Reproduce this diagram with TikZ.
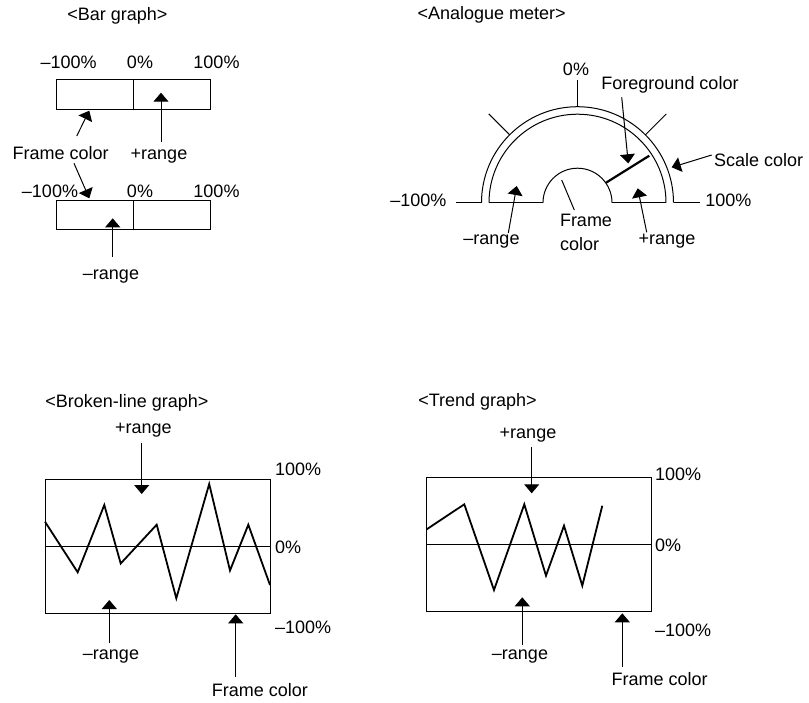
\documentclass[tikz,border=0pt]{standalone}
\usepackage{fontspec}
\setmainfont{Liberation Sans}
\usetikzlibrary{arrows.meta,calc}
\begin{document}
\begin{tikzpicture}[x=1pt,y=1pt,
  every node/.style={font=\fontsize{18}{21}\selectfont},
  lbl/.style={inner sep=0pt,outer sep=0pt,text height=13pt,text depth=4pt,anchor=base},
  lblw/.style={lbl,anchor=base west},
  frame/.style={line width=1pt},
  boxnode/.style={draw,line width=1pt,inner sep=0pt,outer sep=0pt,anchor=north west},
  conn/.style={line width=1pt,-{Triangle[width=15pt,length=9pt]}},
  plain/.style={line width=1pt},
  trace/.style={line width=1.8pt},
  needle/.style={line width=2.2pt}]
\useasboundingbox[fill=white] (0,0) rectangle (809,-702);

% ---------------- Bar graph ----------------
\node[lbl] (bartitle) at (117.5,-20) {<Bar graph>};
\node[lbl] (b1m) at (68.7,-68.5) {–100\%};
\node[lbl] (b1z) at (140,-68.5) {0\%};
\node[lbl] (b1p) at (216.5,-68.5) {100\%};
\node[boxnode,minimum width=154pt,minimum height=29.7pt] (bar1) at (56.7,-79.3) {};
\draw[frame] (bar1.north) -- (bar1.south);
\node[boxnode,minimum width=154pt,minimum height=29.3pt] (bar2) at (56.7,-200) {};
\draw[frame] (bar2.north) -- (bar2.south);

\node[lbl] (barfc) at (60.7,-159.3) {Frame color};
\node[lbl] (b1plus) at (159,-159.3) {+range};
\coordinate (b1tip) at (161,-92.7);
\draw[conn,shorten <=4.6pt] (b1tip |- b1plus.north) -- (b1tip);
\coordinate (b1fctip) at (89.3,-110.7);
\draw[conn] ($(barfc.north)+(16,10.3)$) -- (b1fctip);
\coordinate (b2fctip) at (89.3,-198.3);
\draw[conn] ($(barfc.south)+(13.3,0)$) -- (b2fctip);

\node[lbl] (b2m) at (50,-197.5) {–100\%};
\node[lbl] (b2z) at (140,-197.5) {0\%};
\node[lbl] (b2p) at (216.5,-197.5) {100\%};
\node[lbl] (b2minus) at (111,-279.5) {–range};
\coordinate (b2tip) at (112.7,-218.3);
\draw[conn,shorten <=9.8pt] (b2tip |- b2minus.north) -- (b2tip);

% ---------------- Analogue meter ----------------
\node[lbl] (mtitle) at (491.7,-19.5) {<Analogue meter>};
\coordinate (mc) at (577.5,-202.7);
\draw[frame] (mc) ++(180:96pt) arc[start angle=180,end angle=0,radius=96pt];
\draw[frame] (mc) ++(180:88.5pt) arc[start angle=180,end angle=0,radius=88.5pt];
\draw[frame] (mc) ++(180:34.5pt) arc[start angle=180,end angle=0,radius=34.5pt];
\draw[frame] ($(mc)+(-121.5,0)$) -- ($(mc)+(-96,0)$);
\draw[frame] ($(mc)+(-88.5,0)$) -- ($(mc)+(-34.5,0)$);
\draw[frame] ($(mc)+(34.5,0)$) -- ($(mc)+(88.5,0)$);
\draw[frame] ($(mc)+(96,0)$) -- ($(mc)+(122.5,0)$);
\foreach \a/\r in {45/125.6,90/122.7,135/125.6}
  \draw[frame] ($(mc)+(\a:96pt)$) -- ($(mc)+(\a:\r pt)$);
\draw[needle] ($(mc)+(28.5,20)$) -- ($(mc)+(71.8,47)$);

\node[lbl] (m0) at (576,-75) {0\%};
\node[lbl] (mfg) at (670,-89.5) {Foreground color};
\coordinate (mfgtip) at (628.3,-163.3);
\draw[conn] ($(mfg.south)+(-48.3,-3.8)$) -- (mfgtip);
\node[lblw] (msc) at (714,-166.5) {Scale color};
\coordinate (msctip) at (671.7,-167.3);
\draw[conn] ($(msc.west)+(-2.3,7)$) -- (msctip);
\node[lbl] (mm100) at (418.3,-206) {–100\%};
\node[lbl] (mp100) at (728.3,-206) {100\%};
\node[lbl] (mmr) at (491.5,-244.5) {–range};
\coordinate (mmrtip) at (516.7,-186);
\draw[conn] ($(mmr.north)+(16.8,-1.5)$) -- (mmrtip);
\node[lbl] (mpr) at (667,-244.5) {+range};
\coordinate (mprtip) at (637.7,-188.3);
\draw[conn] ($(mpr.north)+(-20.3,-0.8)$) -- (mprtip);
\node[lblw] (mf1) at (560,-226) {Frame};
\node[lblw] (mf2) at (560,-250) {color};
\coordinate (mfend) at (561.7,-180);
\draw[plain] ($(mf1.north west)+(14.3,3)$) -- (mfend);

% ---------------- Broken-line graph ----------------
\node[lbl] (btitle) at (127,-407) {<Broken-line graph>};
\node[boxnode,minimum width=225pt,minimum height=134.3pt] (bbox) at (45,-479) {};
\draw[frame] (bbox.west) -- (bbox.east);
\draw[trace] (45,-521.7) -- (77.7,-572.3) -- (104.3,-505) -- (120.7,-563.5)
  -- (156.7,-524.7) -- (176.3,-598.3) -- (209.2,-484) -- (230,-570.5)
  -- (248.3,-524.7) -- (270,-585);
\node[lblw] (bl100) at (275,-475) {100\%};
\node[lblw] (bl0) at (275,-553) {0\%};
\node[lblw] (blm100) at (275,-633) {–100\%};
\node[lbl] (blplus) at (143.3,-433) {+range};
\coordinate (blptip) at (141.7,-494);
\draw[conn,shorten <=6.3pt] (blptip |- blplus.south) -- (blptip);
\node[lbl] (blminus) at (111,-659.5) {–range};
\coordinate (blmtip) at (109.3,-600);
\draw[conn,shorten <=3.2pt] (blmtip |- blminus.north) -- (blmtip);
\node[lbl] (blfc) at (260,-696.5) {Frame color};
\coordinate (blfctip) at (235.7,-614.3);
\draw[conn,shorten <=6.8pt] (blfctip |- blfc.north) -- (blfctip);

% ---------------- Trend graph ----------------
\node[lbl] (ttitle) at (477.5,-406) {<Trend graph>};
\node[boxnode,minimum width=224.3pt,minimum height=133.7pt] (tbox) at (426.7,-477.3) {};
\draw[frame] (tbox.west) -- (tbox.east);
\draw[trace] (426.7,-529.3) -- (464.3,-504.3) -- (494,-590) -- (524.3,-504.3)
  -- (546,-575.7) -- (564,-525.7) -- (582.3,-585.7) -- (602.3,-505.7);
\node[lblw] (tr100) at (655,-480) {100\%};
\node[lblw] (tr0) at (655,-551.5) {0\%};
\node[lblw] (trm100) at (655,-636) {–100\%};
\node[lbl] (trplus) at (528,-438) {+range};
\coordinate (trptip) at (531.7,-493.3);
\draw[conn,shorten <=4.7pt] (trptip |- trplus.south) -- (trptip);
\node[lbl] (trminus) at (520,-659.5) {–range};
\coordinate (trmtip) at (522.3,-597.3);
\draw[conn,shorten <=1.5pt] (trmtip |- trminus.north) -- (trmtip);
\node[lbl] (trfc) at (659.7,-685) {Frame color};
\coordinate (trfctip) at (622.3,-613.3);
\draw[conn,shorten <=5.3pt] (trfctip |- trfc.north) -- (trfctip);
\end{tikzpicture}
\end{document}
